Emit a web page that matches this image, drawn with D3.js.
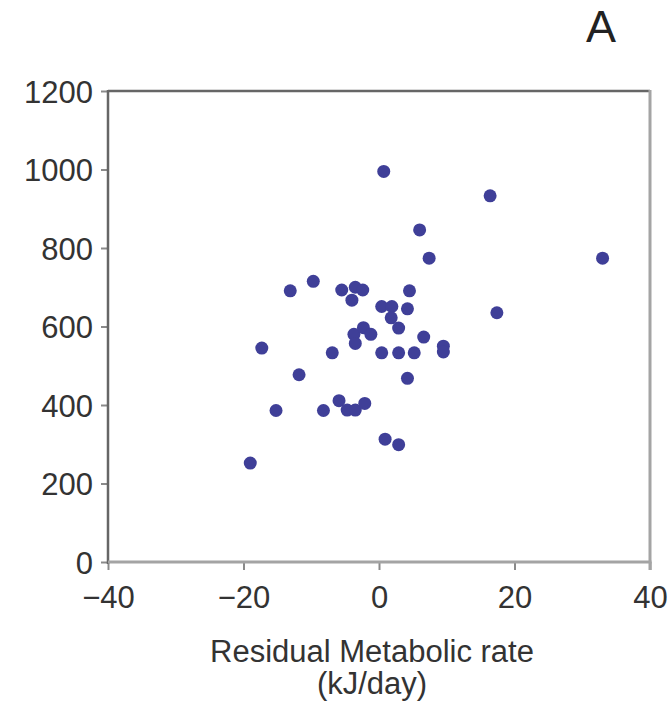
<!DOCTYPE html>
<html>
<head>
<meta charset="utf-8">
<script src="https://cdn.jsdelivr.net/npm/d3@7"></script>
<style>
  html, body { margin: 0; padding: 0; background: #fff; }
  svg { display: block; }
  text { font-family: "Liberation Sans", Arial, Helvetica, sans-serif; }
</style>
</head>
<body>
<div id="chart"></div>
<script>
// Data
const residualRate = [0.7, 16.4, 6.0, 7.4, 33.0, -9.7, -13.1, -5.5, -3.5, -2.4, -4.0, 4.5, 0.4, 1.9, 1.8, 4.2, 2.9, 17.4, -3.7, -2.3, -1.2, -3.5, 6.6, -17.3, -6.9, 0.4, 2.9, 5.2, 9.5, 9.5, -11.8, 4.2, -15.2, -8.2, -5.9, -4.7, -3.5, -2.1, 0.9, 2.9, -19.0];
const yValue =       [995, 933, 846, 774, 774, 715, 691, 693, 700, 693, 667, 691, 651, 651, 622, 645, 596, 635, 580, 597, 580, 557, 573, 545, 533, 533, 533, 533, 550, 535, 477, 468, 386, 386, 411, 387, 387, 404, 313, 299, 252];
const xTicks = [-40, -20, 0, 20, 40];
const yTicks = [0, 200, 400, 600, 800, 1000, 1200];
const xTitle1 = "Residual Metabolic rate";
const xTitle2 = "(kJ/day)";
const panelLabel = "A";

(function () {
const W = 670, H = 703;
const mLeft = 108, mRight = 650, mTop = 91, mBottom = 562;

const svg = d3.select("#chart").append("svg").attr("width", W).attr("height", H);

const x = d3.scaleLinear().domain([-40, 40]).range([mLeft, mRight]);
const y = d3.scaleLinear().domain([0, 1200]).range([mBottom, mTop]);

// Y axis
const yAxis = d3.axisLeft(y).tickValues(yTicks).tickSize(7).tickPadding(8).tickFormat(d3.format("d"));
const gy = svg.append("g").attr("transform", `translate(${mLeft},0)`).call(yAxis);
gy.select(".domain").remove();
gy.selectAll(".tick line").attr("stroke", "#8a8a8a").attr("stroke-width", 2);
gy.selectAll(".tick text").attr("font-size", 31).attr("fill", "#333").attr("dy", "0.36em");

// X axis
const fmtX = d => d < 0 ? "\u2212" + Math.abs(d) : String(d);
const xAxis = d3.axisBottom(x).tickValues(xTicks).tickSize(8).tickPadding(16).tickFormat(fmtX);
const gx = svg.append("g").attr("transform", `translate(0,${mBottom})`).call(xAxis);
gx.select(".domain").remove();
gx.selectAll(".tick line").attr("stroke", "#8a8a8a").attr("stroke-width", 2);
gx.selectAll(".tick text").attr("font-size", 31).attr("fill", "#333").attr("dy", "0.71em");

// Frame: top & left dark, bottom & right lighter
svg.append("line").attr("x1", mLeft).attr("x2", mRight).attr("y1", mTop).attr("y2", mTop)
  .attr("stroke", "#666").attr("stroke-width", 2.5);
svg.append("line").attr("x1", mLeft).attr("x2", mLeft).attr("y1", mTop - 1).attr("y2", mBottom + 2)
  .attr("stroke", "#666").attr("stroke-width", 2.5);
svg.append("line").attr("x1", mLeft).attr("x2", mRight + 1.5).attr("y1", mBottom).attr("y2", mBottom)
  .attr("stroke", "#a4a4a4").attr("stroke-width", 3);
svg.append("line").attr("x1", mRight).attr("x2", mRight).attr("y1", mTop - 1).attr("y2", mBottom + 8)
  .attr("stroke", "#a4a4a4").attr("stroke-width", 3);

// Points
const pts = residualRate.map((v, i) => ({ x: v, y: yValue[i] }));
svg.append("g").selectAll("circle").data(pts).join("circle")
  .attr("cx", d => x(d.x)).attr("cy", d => y(d.y)).attr("r", 6.5)
  .attr("fill", "#3f3f98");

// Titles
svg.append("text").attr("x", 372).attr("y", 662).attr("text-anchor", "middle")
  .attr("font-size", 31).attr("fill", "#333").text(xTitle1);
svg.append("text").attr("x", 372).attr("y", 694).attr("text-anchor", "middle")
  .attr("font-size", 31).attr("fill", "#333").text(xTitle2);
svg.append("text").attr("x", 601).attr("y", 42).attr("text-anchor", "middle")
  .attr("font-size", 45).attr("fill", "#222").text(panelLabel);
})();
</script>
</body>
</html>
